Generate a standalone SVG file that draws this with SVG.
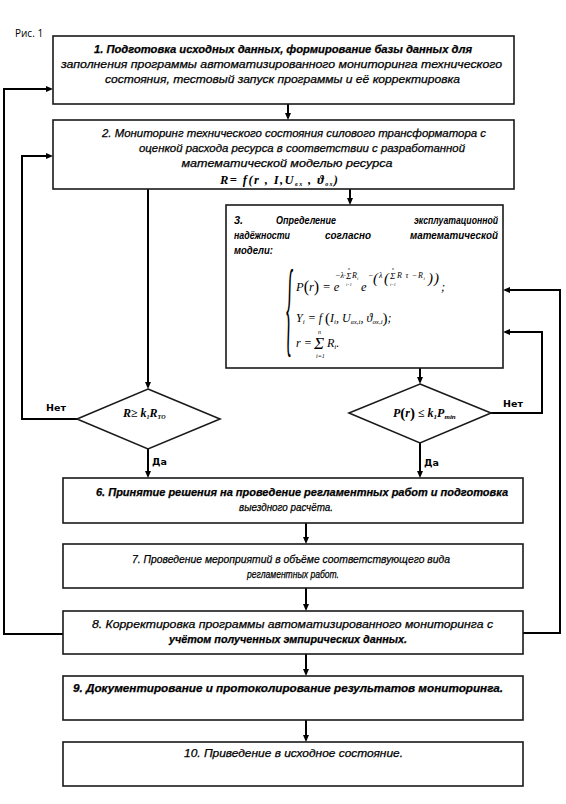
<svg xmlns="http://www.w3.org/2000/svg" width="566" height="804" viewBox="0 0 566 804">
<style>
.box{fill:#fff;stroke:#1a1a1a;stroke-width:1.6}
.dia{fill:#fff;stroke:#1a1a1a;stroke-width:1.6}
.con{fill:none;stroke:#000;stroke-width:2}
.t{font-family:"Liberation Sans",Arial,sans-serif;font-style:italic;font-size:11px;fill:#000;stroke:#000;stroke-width:0.25;text-anchor:middle}
.h{font-family:"Liberation Sans",Arial,sans-serif;font-style:italic;font-weight:bold;font-size:11px;fill:#000}
.m{font-family:"Liberation Serif","Times New Roman",serif;font-style:italic;fill:#000}
.mb{font-family:"Liberation Serif","Times New Roman",serif;font-style:italic;font-weight:bold;fill:#000}
.lbl{font-family:"DejaVu Sans",Verdana,sans-serif;font-weight:bold;font-size:9.5px;fill:#000}
.cap{font-family:"Open Sans","DejaVu Sans",sans-serif;font-size:10px;fill:#000}
</style>
<defs>
<marker id="ah" markerUnits="userSpaceOnUse" markerWidth="8" markerHeight="7" refX="3" refY="3" orient="auto">
<path d="M0,0 L7,3 L0,6 z" fill="#000"/>
</marker>
</defs>
<rect width="566" height="804" fill="#fff"/>
<text class="cap" x="15" y="37">Рис. 1</text>

<g id="connectors">
<path class="con" d="M288,104 V116" marker-end="url(#ah)"/>
<path class="con" d="M148,189 V385" marker-end="url(#ah)"/>
<path class="con" d="M350,189 V201" marker-end="url(#ah)"/>
<path class="con" d="M420,368 V380" marker-end="url(#ah)"/>
<path class="con" d="M148,449 V474" marker-end="url(#ah)"/>
<path class="con" d="M420,443 V474" marker-end="url(#ah)"/>
<path class="con" d="M306,523 V540" marker-end="url(#ah)"/>
<path class="con" d="M306,588 V607" marker-end="url(#ah)"/>
<path class="con" d="M306,654 V672" marker-end="url(#ah)"/>
<path class="con" d="M306,720 V738" marker-end="url(#ah)"/>
<path class="con" d="M63,634 H4 V89 H49" marker-end="url(#ah)"/>
<path class="con" d="M77,419 H22 V156 H49" marker-end="url(#ah)"/>
<path class="con" d="M523,633 H560 V290 H507" marker-end="url(#ah)"/>
<path class="con" d="M491,413 H542 V332 H507" marker-end="url(#ah)"/>
<text class="lbl" x="46" y="411">Нет</text>
<text class="lbl" x="503" y="407">Нет</text>
<text class="lbl" x="152" y="465">Да</text>
<text class="lbl" x="424" y="466">Да</text>
</g>

<g id="n1">
<rect class="box" x="53" y="36" width="461" height="68"/>
<text class="t" x="283" y="53" textLength="378" lengthAdjust="spacingAndGlyphs" font-weight="bold">1. Подготовка исходных данных, формирование базы данных для</text>
<text class="t" x="281.5" y="68" textLength="441" lengthAdjust="spacingAndGlyphs">заполнения программы автоматизированного мониторинга технического</text>
<text class="t" x="282.5" y="83" textLength="355" lengthAdjust="spacingAndGlyphs">состояния, тестовый запуск программы и её корректировка</text>
</g>

<g id="n2">
<rect class="box" x="53" y="120" width="461" height="69"/>
<text class="t" x="294" y="137" textLength="384" lengthAdjust="spacingAndGlyphs">2. Мониторинг технического состояния силового трансформатора с</text>
<text class="t" x="302" y="152" textLength="326" lengthAdjust="spacingAndGlyphs">оценкой расхода ресурса в соответствии с разработанной</text>
<text class="t" x="287" y="167" textLength="211" lengthAdjust="spacingAndGlyphs">математической моделью ресурса</text>
<text class="mb" x="220" y="184" font-size="12.5" textLength="118" lengthAdjust="spacing">R=  f(r , I,U<tspan font-size="6" dy="2">вх</tspan><tspan dy="-2"> , ϑ</tspan><tspan font-size="6" dy="2">ох</tspan><tspan dy="-2">)</tspan></text>
</g>

<g id="n3">
<rect class="box" x="226" y="205" width="277" height="163"/>
<text class="h" x="234" y="224">3.</text>
<text class="h" x="276" y="224" textLength="60" lengthAdjust="spacingAndGlyphs">Определение</text>
<text class="h" x="414" y="224" textLength="84" lengthAdjust="spacingAndGlyphs">эксплуатационной</text>
<text class="h" x="234" y="239" textLength="56" lengthAdjust="spacingAndGlyphs">надёжности</text>
<text class="h" x="325" y="239" textLength="46" lengthAdjust="spacingAndGlyphs">согласно</text>
<text class="h" x="410" y="239" textLength="88" lengthAdjust="spacingAndGlyphs">математической</text>
<text class="h" x="234" y="254" textLength="39" lengthAdjust="spacingAndGlyphs">модели:</text>
<text class="m" transform="translate(286,343) scale(0.17,1)" font-size="106" font-style="normal">{</text>
<text class="m" x="296" y="291" font-size="12.5">P<tspan font-size="16" font-style="normal" dy="1">(</tspan><tspan dy="-1">r</tspan><tspan font-size="16" font-style="normal" dy="1">)</tspan><tspan dy="-1"> = e</tspan></text>
<text class="m" x="335" y="278" font-size="8">−λ·</text>
<text class="m" x="346" y="279" font-size="9" font-style="normal">Σ</text>
<text class="m" x="352" y="278" font-size="8">R<tspan font-size="5" dy="2">i</tspan></text>
<text class="m" x="348" y="270" font-size="4">n</text>
<text class="m" x="346" y="286" font-size="4">i=1</text>
<text class="m" x="361" y="291" font-size="12.5">e</text>
<text class="m" x="368" y="278" font-size="8">−</text>
<text class="m" x="373" y="283" font-size="15" font-style="normal">(</text>
<text class="m" x="379" y="278" font-size="8">λ</text>
<text class="m" x="384" y="283" font-size="15" font-style="normal">(</text>
<text class="m" x="390" y="279" font-size="9" font-style="normal">Σ</text>
<text class="m" x="392" y="270" font-size="4">n</text>
<text class="m" x="390" y="286" font-size="4">i=1</text>
<text class="m" x="397" y="278" font-size="8" textLength="28" lengthAdjust="spacing">R τ −R<tspan font-size="5" dy="2">i</tspan></text>
<text class="m" x="428" y="283" font-size="15" font-style="normal">)</text>
<text class="m" x="434" y="283" font-size="15" font-style="normal">)</text>
<text class="m" x="441" y="291" font-size="12.5">;</text>
<text class="m" x="296" y="322" font-size="12">Y<tspan font-size="7" dy="2">i</tspan><tspan dy="-2"> = f </tspan><tspan font-size="15" font-style="normal" dy="1">(</tspan><tspan dy="-1">I</tspan><tspan font-size="7" dy="2">i</tspan><tspan dy="-2">, U</tspan><tspan font-size="7" dy="2">вх,i</tspan><tspan dy="-2">, ϑ</tspan><tspan font-size="7" dy="2">ох,i</tspan><tspan font-size="15" font-style="normal" dy="-1">)</tspan><tspan dy="-1">;</tspan></text>
<text class="m" x="296" y="347" font-size="12">r = </text>
<text class="m" x="314" y="349" font-size="17" font-style="normal">Σ</text>
<text class="m" x="318" y="334" font-size="6">n</text>
<text class="m" x="316" y="358" font-size="6">i=1</text>
<text class="m" x="327" y="347" font-size="12">R<tspan font-size="7" dy="2">i</tspan><tspan dy="-2">.</tspan></text>
</g>

<g id="d1">
<polygon class="dia" points="148,389 220,419 148,449 77,419"/>
<text class="mb" x="123" y="417" font-size="12">R≥ k<tspan font-size="6" dy="2">1</tspan><tspan dy="-2">R</tspan><tspan font-size="6" dy="2">ТО</tspan></text>
</g>

<g id="d2">
<polygon class="dia" points="420,384 491,413 420,443 349,413"/>
<text class="mb" x="393" y="417" font-size="12">P<tspan font-size="15" font-style="normal" dy="1">(</tspan><tspan dy="-1">r</tspan><tspan font-size="15" font-style="normal" dy="1">)</tspan><tspan dy="-1"> ≤ k</tspan><tspan font-size="7" dy="2">1</tspan><tspan dy="-2">P</tspan><tspan font-size="7" dy="2">min</tspan></text>
</g>

<g id="n6">
<rect class="box" x="63" y="478" width="460" height="45"/>
<text class="t" x="302" y="496" textLength="412" lengthAdjust="spacingAndGlyphs" font-weight="bold">6. Принятие решения на проведение регламентных работ и подготовка</text>
<text class="t" x="286" y="511" textLength="94" lengthAdjust="spacingAndGlyphs">выездного расчёта.</text>
</g>

<g id="n7">
<rect class="box" x="63" y="544" width="460" height="44"/>
<text class="t" x="291" y="563" textLength="318" lengthAdjust="spacingAndGlyphs">7. Проведение мероприятий в объёме соответствующего вида</text>
<text class="t" x="293" y="578" textLength="92" lengthAdjust="spacingAndGlyphs">регламентных работ.</text>
</g>

<g id="n8">
<rect class="box" x="63" y="611" width="460" height="43"/>
<text class="t" x="292.5" y="628" textLength="401" lengthAdjust="spacingAndGlyphs">8. Корректировка программы автоматизированного мониторинга с</text>
<text class="t" x="288" y="643" textLength="238" lengthAdjust="spacingAndGlyphs" font-weight="bold">учётом полученных эмпирических данных.</text>
</g>

<g id="n9">
<rect class="box" x="63" y="676" width="460" height="44"/>
<text class="t" x="288" y="692" textLength="430" lengthAdjust="spacingAndGlyphs" font-weight="bold">9. Документирование и протоколирование результатов мониторинга.</text>
</g>

<g id="n10">
<rect class="box" x="63" y="742" width="460" height="44"/>
<text class="t" x="293.5" y="757" textLength="219" lengthAdjust="spacingAndGlyphs">10. Приведение в исходное состояние.</text>
</g>
</svg>
